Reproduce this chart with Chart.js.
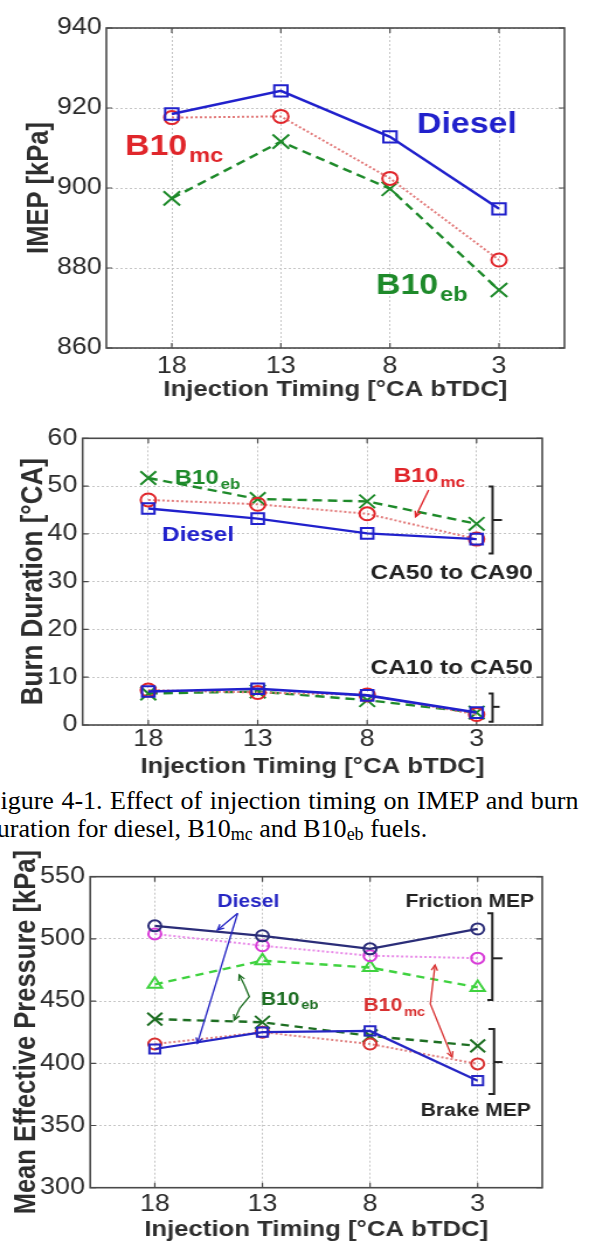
<!DOCTYPE html>
<html>
<head>
<meta charset="utf-8">
<script src="https://cdn.jsdelivr.net/npm/chart.js@4.4.1/dist/chart.umd.min.js"></script>
<style>
  html, body { margin: 0; padding: 0; background: #fff; }
  body { width: 589px; height: 1248px; position: relative; overflow: hidden; }
  /* the figures are a little wider than they are tall, so stretch the canvases sideways */
  .panel { position: absolute; left: 0; transform-origin: 0 0; transform: scaleX(1.16865); }
  .caption { position: absolute; font-family: "Liberation Serif", "Times New Roman", serif; font-size: 26px;
             line-height: 28.3px; color: #000; white-space: nowrap; }
  .caption sub { font-size: 18px; line-height: 0; vertical-align: -3px; }
</style>
</head>
<body>
<div class="panel" style="top:0px"><canvas id="imep" width="504" height="410"></canvas></div>
<div class="panel" style="top:410px"><canvas id="burn" width="504" height="370"></canvas></div>
<div class="caption" style="top:787px; left:-14px; word-spacing:1px">Figure 4-1. Effect of injection timing on IMEP and burn</div>
<div class="caption" style="top:815.3px; left:-22px">Duration for diesel, B10<sub>mc</sub> and B10<sub>eb</sub> fuels.</div>
<div class="panel" style="top:845px"><canvas id="mep" width="504" height="403"></canvas></div>
<script>
// injection timing [°CA bTDC]
const timing = [18, 13, 8, 3];
const xTicks = [18, 13, 8, 3];

// IMEP [kPa]
const imepDiesel = [918.5, 924.3, 912.8, 894.8];
const imepB10mc = [917.6, 917.9, 902.4, 882.0];
const imepB10eb = [897.4, 911.6, 899.8, 874.5];

// burn duration [°CA], CA50 to CA90
const lateDiesel = [45.3, 43.2, 40.1, 38.9];
const lateB10mc = [47.1, 46.2, 44.2, 38.9];
const lateB10eb = [51.7, 47.3, 46.8, 42.1];
// burn duration [°CA], CA10 to CA50
const earlyDiesel = [7.0, 7.6, 6.2, 2.6];
const earlyB10mc = [7.3, 6.8, 6.3, 2.2];
const earlyB10eb = [6.6, 7.0, 5.2, 2.6];

// friction and brake MEP [kPa]
const fmepDiesel = [510.5, 502.5, 492.0, 508.0];
const fmepB10mc = [504.0, 494.5, 486.5, 484.5];
const fmepB10eb = [463.5, 482.5, 477.0, 461.0];
const bmepDiesel = [411.5, 425.0, 426.0, 386.0];
const bmepB10mc = [415.5, 425.0, 415.5, 399.5];
const bmepB10eb = [435.5, 433.0, 422.0, 414.0];

const family = "'Liberation Sans', Arial, Helvetica, sans-serif";
Chart.defaults.font.family = family;
Chart.defaults.color = '#333';

const blue = '#2121cc', red = '#e0262b', redDots = '#e27b7b', green = '#1e8a2a';

function series(vals, color, lineColor, style, radius, dash, width) {
  return {
    data: timing.map((t, i) => ({ x: t, y: vals[i] })),
    borderColor: lineColor, borderWidth: width, borderDash: dash,
    pointStyle: style, pointRadius: radius, pointBorderColor: color,
    pointBackgroundColor: 'rgba(0,0,0,0)', pointBorderWidth: 2,
    fill: false, tension: 0
  };
}

// box round the plot with short inward ticks
const frame = {
  id: 'frame',
  beforeDatasetsDraw(chart) {
    const { ctx, chartArea: a, scales: { x, y } } = chart;
    ctx.save();
    ctx.strokeStyle = '#4a4a4a';
    ctx.lineWidth = 1.6;
    ctx.strokeRect(a.left, a.top, a.right - a.left, a.bottom - a.top);
    ctx.lineWidth = 1.2;
    ctx.beginPath();
    x.ticks.forEach(t => {
      const p = x.getPixelForValue(t.value);
      ctx.moveTo(p, a.bottom); ctx.lineTo(p, a.bottom - 5);
      ctx.moveTo(p, a.top); ctx.lineTo(p, a.top + 5);
    });
    y.ticks.forEach(t => {
      const p = y.getPixelForValue(t.value);
      ctx.moveTo(a.left, p); ctx.lineTo(a.left + 5, p);
      ctx.moveTo(a.right, p); ctx.lineTo(a.right - 5, p);
    });
    ctx.stroke();
    ctx.restore();
  }
};

function arrowHead(ctx, from, to) {
  const ang = Math.atan2(to[1] - from[1], to[0] - from[0]);
  const len = 6;
  ctx.beginPath();
  ctx.moveTo(to[0] - len * Math.cos(ang - 0.45), to[1] - len * Math.sin(ang - 0.45));
  ctx.lineTo(to[0], to[1]);
  ctx.lineTo(to[0] - len * Math.cos(ang + 0.45), to[1] - len * Math.sin(ang + 0.45));
  ctx.stroke();
}

// labels, brackets and pointer lines, placed in data units
function notesPlugin(items) {
  return {
    id: 'notes',
    afterDatasetsDraw(chart) {
      const { ctx, scales: { x, y } } = chart;
      items.forEach(n => {
        ctx.save();
        ctx.fillStyle = ctx.strokeStyle = n.color;
        if (n.text) {
          const px = x.getPixelForValue(n.x);
          const base = y.getPixelForValue(n.y) + n.size * 0.36;
          ctx.font = `bold ${n.size}px ${family}`;
          ctx.fillText(n.text, px, base);
          if (n.sub) {
            const w = ctx.measureText(n.text).width;
            ctx.font = `bold ${n.size * 0.7}px ${family}`;
            ctx.fillText(n.sub, px + w + 1.5, base + n.size * 0.23);
          }
        } else {
          const pts = n.path.map(p => [x.getPixelForValue(p[0]), y.getPixelForValue(p[1])]);
          ctx.lineWidth = n.width || 1.4;
          ctx.beginPath();
          pts.forEach((p, i) => i ? ctx.lineTo(p[0], p[1]) : ctx.moveTo(p[0], p[1]));
          ctx.stroke();
          if (n.head) arrowHead(ctx, pts[pts.length - 2], pts[pts.length - 1]);
          if (n.tail) arrowHead(ctx, pts[1], pts[0]);
        }
        ctx.restore();
      });
    }
  };
}

function makeChart(id, datasets, cfg) {
  return new Chart(document.getElementById(id), {
    type: 'line',
    data: { datasets },
    options: {
      responsive: false,
      animation: false,
      events: [],
      layout: { padding: { left: 0, top: cfg.padTop, right: cfg.padRight, bottom: 0 } },
      plugins: { legend: { display: false }, tooltip: { enabled: false } },
      scales: {
        x: {
          type: 'linear', reverse: true, min: 0, max: 21,
          afterBuildTicks: s => { s.ticks = xTicks.map(v => ({ value: v })); },
          afterFit: s => { s.height = cfg.xHeight; },
          grid: { color: '#c6c6c6', lineWidth: 1, drawTicks: false },
          border: { display: false, dash: [2, 2] },
          ticks: { padding: cfg.xTickPad, font: { size: 23 }, color: '#2b2b2b' },
          title: {
            display: true, text: 'Injection Timing [°CA bTDC]', color: '#2e2e2e',
            font: { size: 22, weight: 'bold' }, padding: { top: 0, bottom: cfg.xTitlePad }
          }
        },
        y: {
          min: cfg.yMin, max: cfg.yMax,
          afterFit: s => { s.width = cfg.yWidth; },
          grid: { color: '#c6c6c6', lineWidth: 1, drawTicks: false },
          border: { display: false, dash: [2, 2] },
          ticks: { stepSize: cfg.yStep, padding: cfg.yTickPad, font: { size: 23 }, color: '#2b2b2b' },
          title: {
            display: true, text: cfg.yTitle, color: '#2e2e2e',
            font: { size: cfg.yTitleSize, weight: 'bold' }, padding: { top: cfg.yTitlePad, bottom: 0 }
          }
        }
      }
    },
    plugins: [frame, notesPlugin(cfg.notes)]
  });
}

// IMEP
makeChart('imep', [
  series(imepDiesel, blue, blue, 'rect', 8, [], 2.4),
  series(imepB10mc, red, redDots, 'circle', 6.5, [2, 2], 2),
  series(imepB10eb, green, green, 'crossRot', 10, [8, 5], 2.4)
], {
  padTop: 28, padRight: 21, yWidth: 91, xHeight: 62, xTickPad: 5, xTitlePad: 7,
  yMin: 860, yMax: 940, yStep: 20, yTickPad: 4,
  yTitle: 'IMEP [kPa]', yTitleSize: 25.5, yTitlePad: 18.4,
  notes: [
    { text: 'Diesel', x: 6.76, y: 916.4, size: 29, color: blue },
    { text: 'B10', sub: 'mc', x: 20.14, y: 910.9, size: 29, color: red },
    { text: 'B10', sub: 'eb', x: 8.64, y: 876.1, size: 29, color: green }
  ]
});

// burn duration
makeChart('burn', [
  series(lateDiesel, blue, blue, 'rect', 7.5, [], 2.4),
  series(lateB10mc, red, redDots, 'circle', 6.5, [2, 2], 2),
  series(lateB10eb, green, green, 'crossRot', 9.5, [8, 5], 2.4),
  series(earlyDiesel, blue, blue, 'rect', 7.5, [], 2.6),
  series(earlyB10mc, red, redDots, 'circle', 6.5, [2, 2], 2),
  series(earlyB10eb, green, green, 'crossRot', 9.5, [8, 5], 2.4)
], {
  padTop: 28.3, padRight: 40, yWidth: 70.7, xHeight: 55, xTickPad: 1, xTitlePad: 0,
  yMin: 0, yMax: 60, yStep: 10, yTickPad: 4.5,
  yTitle: 'Burn Duration [°CA]', yTitleSize: 26, yTitlePad: 13.3,
  notes: [
    { text: 'B10', sub: 'eb', x: 16.79, y: 52.0, size: 20.5, color: green },
    { text: 'B10', sub: 'mc', x: 6.8, y: 52.5, size: 21, color: red },
    { path: [[5.19, 49.2], [5.79, 43.6]], head: true, color: red, width: 1.4 },
    { text: 'Diesel', x: 17.38, y: 40.0, size: 21, color: blue },
    { text: 'CA50 to CA90', x: 7.85, y: 32.1, size: 21, color: '#222' },
    { text: 'CA10 to CA50', x: 7.85, y: 12.2, size: 21, color: '#222' },
    { path: [[2.45, 49.9], [2.27, 49.9], [2.27, 35.9], [2.45, 35.9]], color: '#222', width: 2 },
    { path: [[2.27, 42.9], [1.84, 42.9]], color: '#222', width: 2 },
    { path: [[2.45, 6.6], [2.27, 6.6], [2.27, 0.7], [2.45, 0.7]], color: '#222', width: 2 },
    { path: [[2.27, 3.8], [1.95, 3.8]], color: '#222', width: 2 }
  ]
});

// friction and brake MEP
makeChart('mep', [
  series(fmepDiesel, '#2b2d78', '#2b2d78', 'circle', 5.5, [], 2.2),
  series(fmepB10mc, '#d83cd8', '#e88ae8', 'circle', 5.5, [2, 2], 2),
  series(fmepB10eb, '#3fd23f', '#3fd23f', 'triangle', 7, [7, 5], 2.4),
  series(bmepDiesel, '#2626c4', '#2626c4', 'rect', 6.5, [], 2.2),
  series(bmepB10mc, '#d83030', '#e08080', 'circle', 5.5, [2, 2], 2),
  series(bmepB10eb, '#1d6e22', '#1d6e22', 'crossRot', 9, [7, 5], 2.4)
], {
  padTop: 31.7, padRight: 40, yWidth: 77.2, xHeight: 60.3, xTickPad: 3.5, xTitlePad: 4.8,
  yMin: 300, yMax: 550, yStep: 50, yTickPad: 4.5,
  yTitle: 'Mean Effective Pressure [kPa]', yTitleSize: 25.5, yTitlePad: 7.8,
  notes: [
    { text: 'Diesel', x: 15.09, y: 530.6, size: 18, color: '#2626c4' },
    { path: [[14.15, 520.6], [15.09, 507.2]], head: true, color: '#2626c4', width: 1.3 },
    { path: [[14.15, 520.6], [16.02, 416.1]], head: true, color: '#2626c4', width: 1.3 },
    { text: 'Friction MEP', x: 6.35, y: 530.9, size: 18, color: '#222' },
    { path: [[2.55, 520.6], [2.32, 520.6], [2.32, 450.9], [2.55, 450.9]], color: '#222', width: 2 },
    { path: [[2.32, 484.4], [1.85, 484.4]], color: '#222', width: 2 },
    { text: 'Brake MEP', x: 5.64, y: 362.5, size: 18, color: '#222' },
    { path: [[2.5, 427.6], [2.24, 427.6], [2.24, 375.3], [2.5, 375.3]], color: '#222', width: 2 },
    { path: [[2.24, 401], [1.85, 401]], color: '#222', width: 2 },
    { text: 'B10', sub: 'eb', x: 13.07, y: 452.3, size: 18, color: '#1d6e22' },
    { path: [[14.08, 471], [13.84, 462.9], [13.61, 453.5], [14.05, 444.4], [14.31, 434.8]],
      head: true, tail: true, color: '#1d6e22', width: 1.3 },
    { text: 'B10', sub: 'mc', x: 8.3, y: 446.9, size: 18, color: '#d83030' },
    { path: [[4.98, 479], [5.2, 447.7], [4.19, 405]], head: true, tail: true, color: '#d83030', width: 1.3 }
  ]
});
</script>
</body>
</html>
